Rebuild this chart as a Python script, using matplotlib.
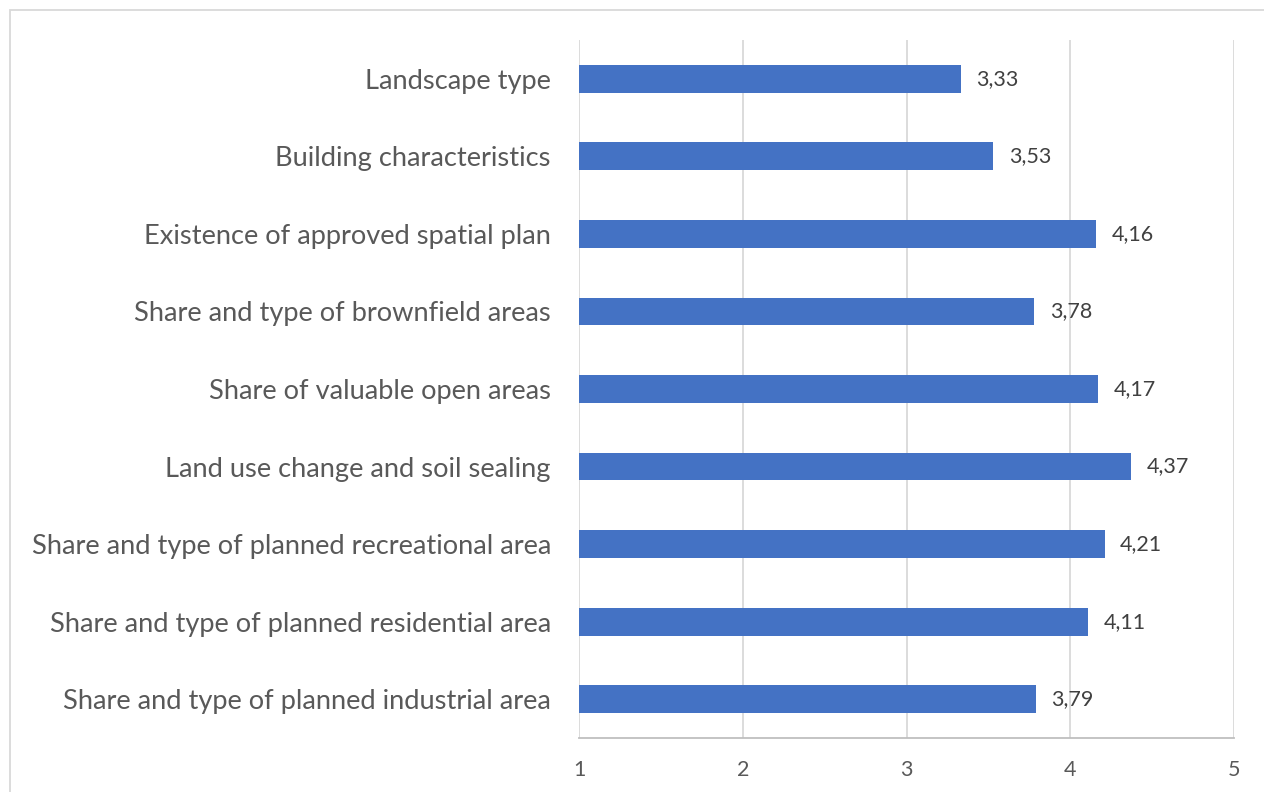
import matplotlib
matplotlib.use("Agg")
import matplotlib.pyplot as plt
from matplotlib.patches import Rectangle

categories = [
    "Share and type of planned industrial area",
    "Share and type of planned residential area",
    "Share and type of planned recreational area",
    "Land use change and soil sealing",
    "Share of valuable open areas",
    "Share and type of brownfield areas",
    "Existence of approved spatial plan",
    "Building characteristics",
    "Landscape type",
]
values = [3.79, 4.11, 4.21, 4.37, 4.17, 3.78, 4.16, 3.53, 3.33]
x_ticks = [1, 2, 3, 4, 5]

plt.rcParams["font.family"] = ["Lato", "DejaVu Sans"]

W, H = 1264, 792
fig = plt.figure(figsize=(W / 100, H / 100), dpi=100)
ax = fig.add_axes([579 / W, 1 - 738 / H, (1234 - 579) / W, (738 - 40) / H])

base = x_ticks[0]
y = list(range(len(categories)))
ax.barh(y, [v - base for v in values], left=base, height=0.357,
        color="#4472C4", zorder=3)

for yi, v in zip(y, values):
    ax.text(v + 0.095, yi, f"{v:.2f}".replace(".", ","), va="center", ha="left",
            fontsize=15.5, color="#404040")

ax.set_xlim(x_ticks[0], x_ticks[-1])
ax.set_ylim(-0.5, len(categories) - 0.5)
ax.set_xticks(x_ticks)
ax.set_xticklabels([str(t) for t in x_ticks], fontsize=15.5, color="#595959")
ax.set_yticks(y)
ax.set_yticklabels(categories, fontsize=19.6, color="#595959")
ax.tick_params(axis="x", length=0, pad=15.5)
ax.tick_params(axis="y", length=0, pad=20.2)

ax.grid(axis="x", color="#D9D9D9", linewidth=1.3, zorder=0)
for side in ["top", "right", "left"]:
    ax.spines[side].set_visible(False)
ax.spines["bottom"].set_color("#BFBFBF")
ax.spines["bottom"].set_linewidth(1.3)

# outer chart frame
fig.patches.append(Rectangle((10 / W, -0.1), 1.2, 1 - 10 / H + 0.1,
                             transform=fig.transFigure, fill=False,
                             edgecolor="#D9D9D9", linewidth=1.3))

fig.savefig("out.png", dpi=100)
